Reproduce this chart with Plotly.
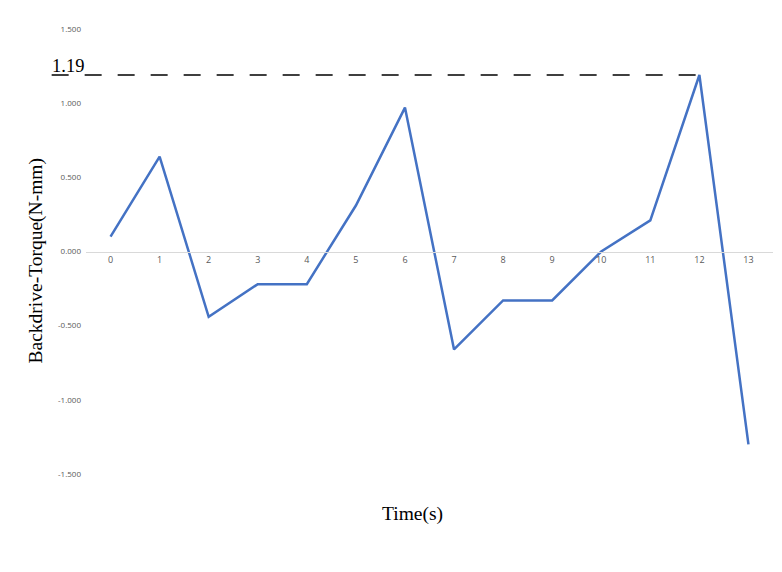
import plotly.graph_objects as go

time_s = list(range(14))
torque = [0.10, 0.64, -0.44, -0.22, -0.22, 0.31, 0.97, -0.66, -0.33, -0.33, 0.00, 0.21, 1.19, -1.30]
y_tickvals = [1.5, 1.0, 0.5, 0.0, -0.5, -1.0, -1.5]
y_ticktext = ["1.500", "1.000", "0.500", "0.000", "-0.500", "-1.000", "-1.500"]
peak_label = "1.19"
peak_x = 12
peak_y = 1.19

x_range = [-0.5, 13.5]
y_range = [-1.5, 1.5]

fig = go.Figure()
fig.add_trace(go.Scatter(
    x=time_s, y=torque, mode="lines",
    line=dict(color="#4472C4", width=2.5),
    showlegend=False,
))

def xpaper(v):
    return (v - x_range[0]) / (x_range[1] - x_range[0])

def ypaper(v):
    return (v - y_range[0]) / (y_range[1] - y_range[0])

fig.add_shape(type="line", xref="paper", yref="paper",
              x0=-0.05, x1=xpaper(peak_x), y0=ypaper(peak_y), y1=ypaper(peak_y),
              line=dict(color="black", width=1.5, dash="17px,16px"))

fig.add_annotation(xref="paper", yref="paper", x=-0.053, y=ypaper(peak_y),
                   text=peak_label, showarrow=False, xanchor="left", yanchor="bottom",
                   yshift=-3,
                   font=dict(family="Liberation Serif", size=18.5, color="black"))

fig.add_annotation(xref="paper", yref="paper", x=0.475, y=0, yshift=-40,
                   text="Time(s)", showarrow=False, xanchor="center", yanchor="middle",
                   font=dict(family="Liberation Serif", size=19.5, color="black"))

fig.add_annotation(xref="paper", yref="paper", x=0, xshift=-51, y=ypaper(0.0),
                   yshift=-10,
                   text="Backdrive-Torque(N-mm)", showarrow=False, textangle=-90,
                   xanchor="center", yanchor="middle",
                   font=dict(family="Liberation Serif", size=19.5, color="black"))

fig.update_xaxes(range=x_range, tickvals=time_s, ticktext=[str(t) for t in time_s],
                 showgrid=False, zeroline=False, showline=True, linecolor="#D9D9D9",
                 linewidth=1, anchor="free", position=ypaper(0.0), ticks="",
                 tickfont=dict(family="Open Sans", size=9, color="#595959"))
fig.update_yaxes(range=y_range, tickvals=y_tickvals, ticktext=y_ticktext,
                 showgrid=False, zeroline=False, showline=False, ticks="",
                 ticklabelstandoff=4,
                 tickfont=dict(family="Open Sans", size=8, color="#595959"))

fig.update_layout(
    width=782, height=572,
    margin=dict(l=78, r=17, t=21, b=106),
    plot_bgcolor="white", paper_bgcolor="white",
)

fig.write_html("out.html")
